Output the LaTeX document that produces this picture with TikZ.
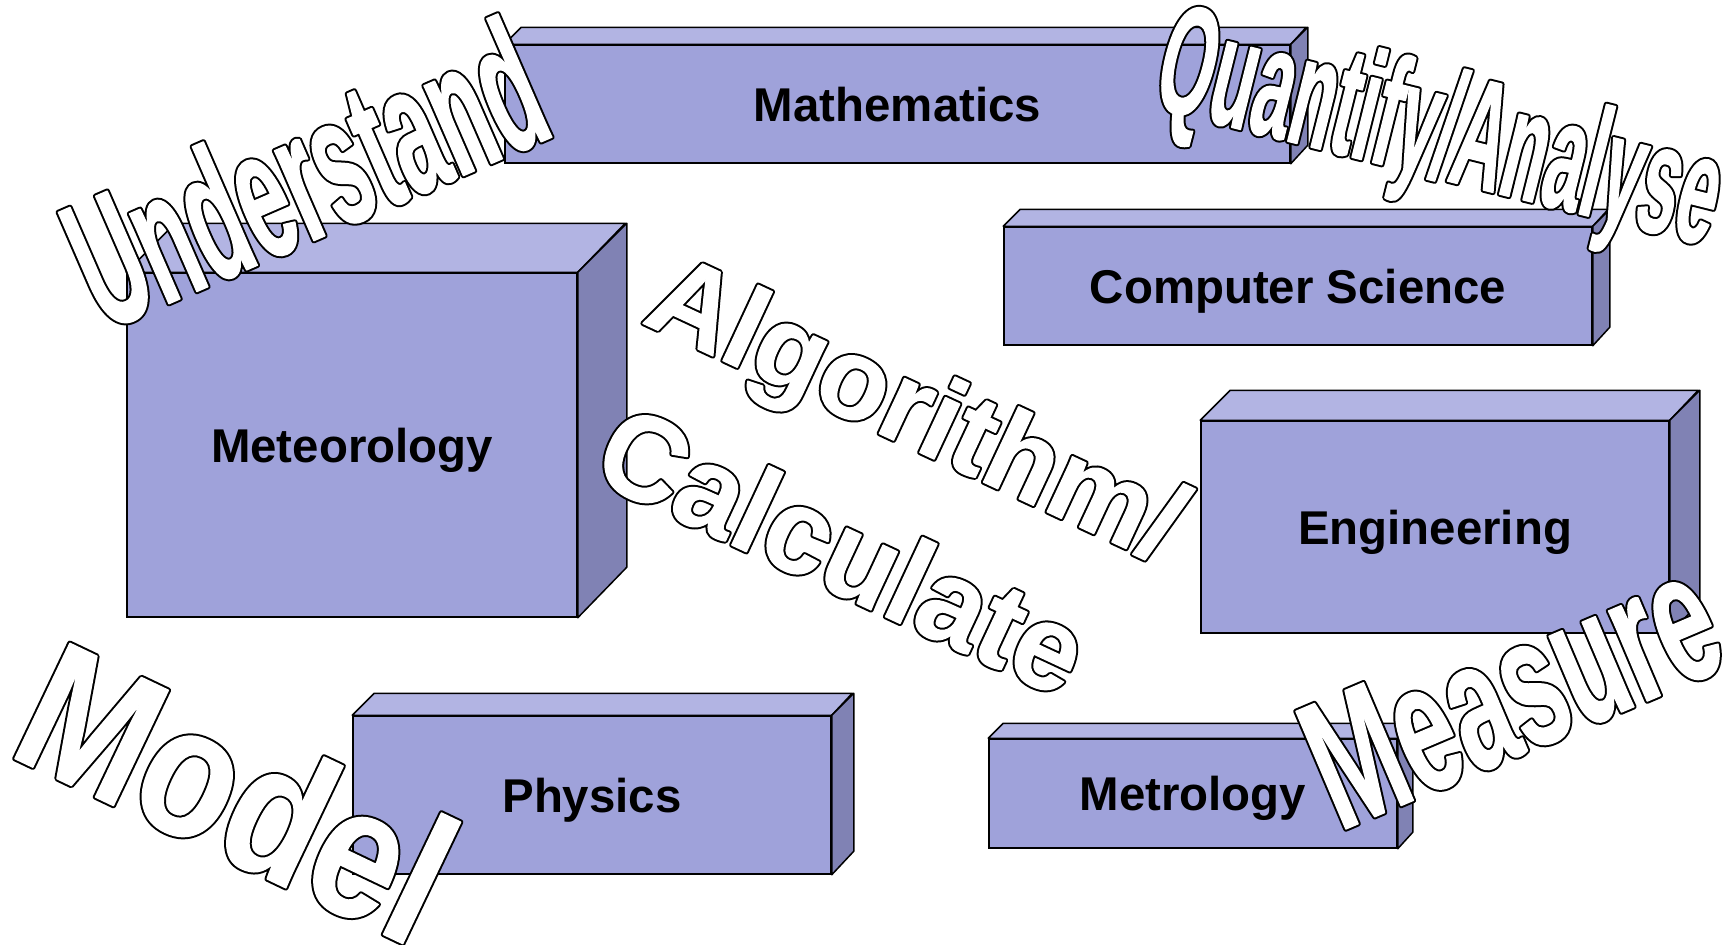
\documentclass[tikz,border=0pt]{standalone}
\usepackage{fontspec}
\setmainfont{Liberation Sans}
\newfontfamily\waU{Liberation Sans}[FakeStretch=0.478]
\newfontfamily\waQ{Liberation Sans}[FakeStretch=0.45]
\newfontfamily\waM{Liberation Sans}[FakeStretch=0.565]
\newfontfamily\waO{Liberation Sans}[FakeStretch=0.84]
\newfontfamily\waC{Liberation Sans}[FakeStretch=0.97]
\newfontfamily\waA{Liberation Sans}
\usetikzlibrary{calc}
\definecolor{boxfront}{RGB}{159,162,218}
\definecolor{boxtop}{RGB}{178,180,227}
\definecolor{boxside}{RGB}{128,130,180}
\newcommand\outlined[1]{\rlap{\special{pdf:literal direct 0 g 0 G 1 j 2 Tr 2.6 w}#1}\special{pdf:literal direct 1 g 1 G 1 j 2 Tr 0.6 w}#1\special{pdf:literal direct 0 Tr}}
\newcommand\cuboid[7]{%
  \node[front, minimum width={(#4-#2)*0.5pt}, minimum height={(#5-#3)*0.5pt}]
    (#1) at ({(#2+#4)/2},{(#3+#5)/2}) {#7};
  \draw[topf] (#1.north west) -- ++(#6,-#6) -- ++({#4-#2},0) -- (#1.north east) -- cycle;
  \draw[sidef] (#1.north east) -- ++(#6,-#6) -- ++(0,{#5-#3}) -- (#1.south east) -- cycle;
}
\begin{document}
\begin{tikzpicture}[x=0.5pt,y=-0.5pt,
  front/.style={draw=black, fill=boxfront, line width=0.75pt, inner sep=0pt,
    text depth=0pt, font=\fontsize{23.7}{28}\selectfont\bfseries},
  topf/.style={draw=black, fill=boxtop, line width=0.75pt, line join=round},
  sidef/.style={draw=black, fill=boxside, line width=0.75pt, line join=round},
  wa/.style={anchor=base west, inner sep=0pt, text=white}]
\useasboundingbox (0,0) rectangle (1731,944);
% boxes
\cuboid{math}{505}{45}{1290}{163}{17}{Mathematics}
\cuboid{cs}{1004}{227}{1592}{345}{17}{Computer Science}
\cuboid{met}{127}{273}{577}{617}{49}{Meteorology}
\cuboid{eng}{1201}{421}{1669}{633}{30}{Engineering}
\cuboid{phy}{353}{716}{831}{874}{22}{Physics}
\cuboid{mtr}{989}{739}{1397}{848}{15}{Metrology}
% word art
\node[wa, rotate=23.5] (und) at (104,332) {\fontsize{93}{100}\waU\bfseries\outlined{Understand}};
\node[wa, rotate=-14] (qua) at (1150,107) {\fontsize{78}{84}\waQ\bfseries\outlined{Quantify/Analyse}};
\node[wa, rotate=-25] (alg) at (640,322) {\fontsize{57.5}{62}\waA\bfseries\outlined{Algorithm/}};
\node[wa, rotate=-25] (cal) at (588,478) {\fontsize{60.5}{66}\waC\bfseries\outlined{Calculate}};
\node[wa, rotate=-25.5] (mod) at (5,754) {\fontsize{93}{100}\waO\bfseries\outlined{Model}};
\node[wa, rotate=23] (mea) at (1339,832) {\fontsize{93}{100}\waM\bfseries\outlined{Measure}};
\end{tikzpicture}
\end{document}
